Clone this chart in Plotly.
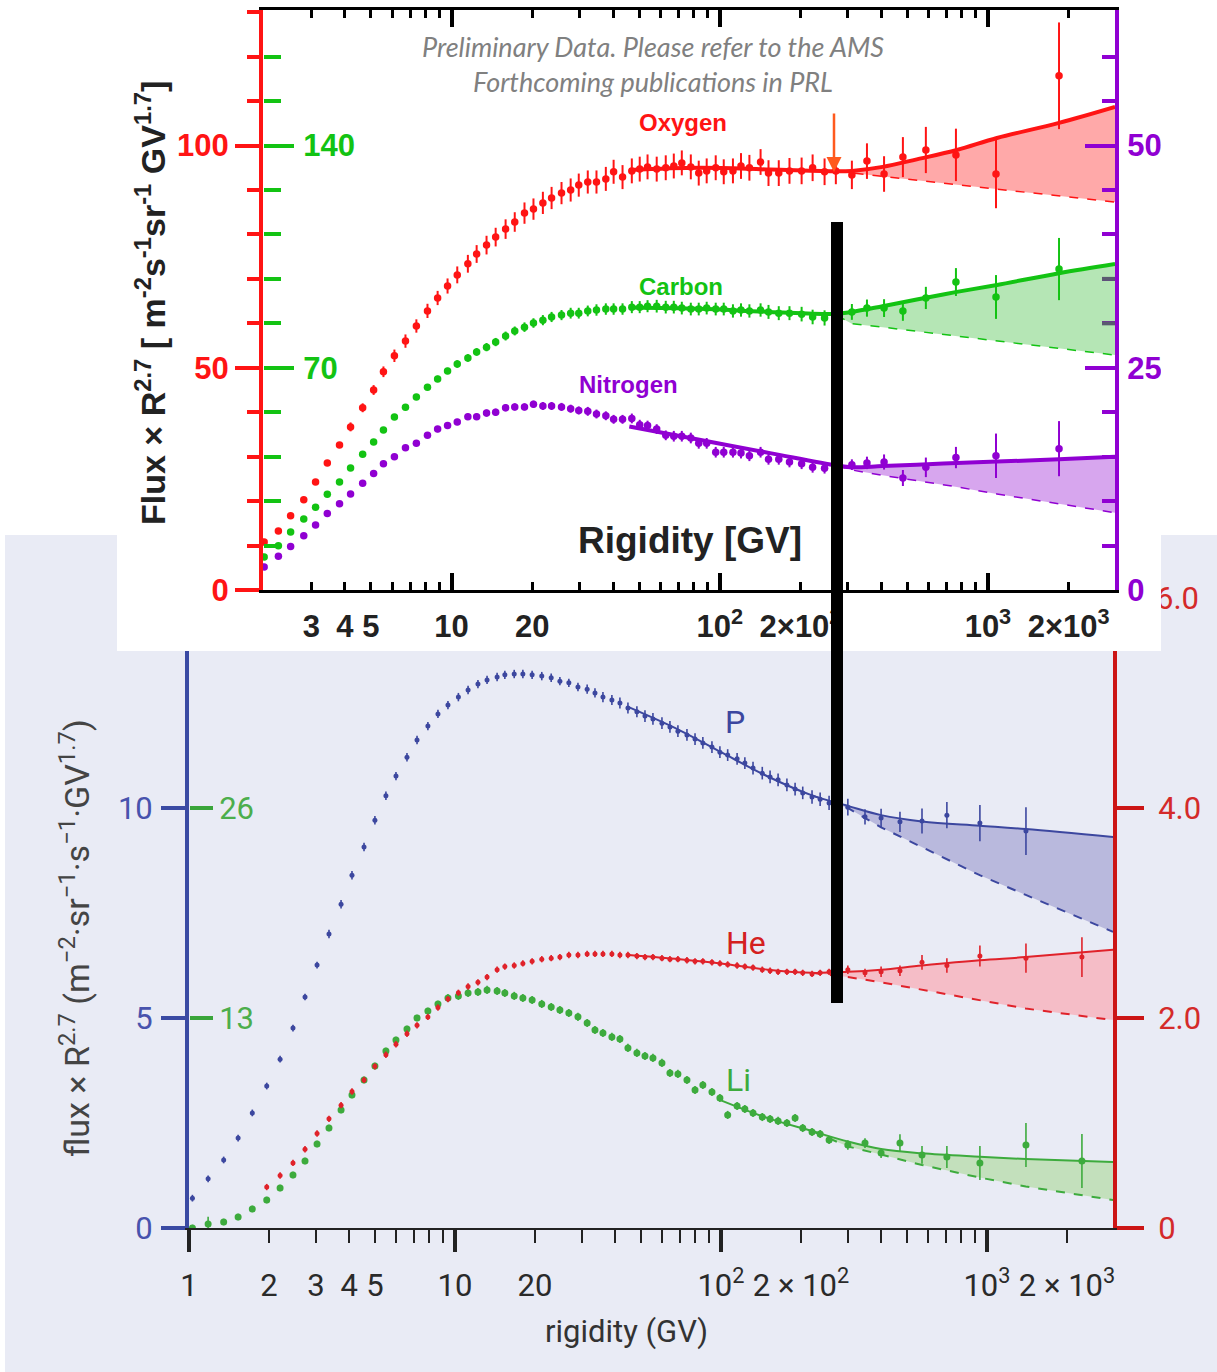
import plotly.graph_objects as go

W, H = 1217, 1372
def px(x): return x / W
def py(y): return 1 - y / H

# ---------------- TOP PANEL: AMS O / C / N ----------------
R_top = [2.00, 2.26, 2.51, 2.81, 3.11, 3.44, 3.82, 4.20, 4.66, 5.12,
         5.57, 6.12, 6.73, 7.39, 8.13, 8.87, 9.66, 10.5, 11.5, 12.4,
         13.5, 14.6, 15.9, 17.2, 18.7, 20.2, 21.9, 23.6, 25.7, 27.8,
         29.8, 32.2, 34.7, 37.6, 40.2, 43.4, 47.0, 50.3, 53.8, 58.2,
         62.9, 67.4, 72.2, 78.0, 83.5, 89.4, 96.6, 103.5, 112, 120,
         129, 142, 152, 166, 182, 202, 222, 246, 271, 311,
         354, 410, 482, 587, 760, 1072, 1842]
oxygen = [10.8, 13.3, 16.7, 20.3, 24.3, 28.6, 32.6, 36.7, 41.0, 45.0,
          49.1, 52.7, 56.0, 59.4, 62.8, 65.7, 68.4, 70.9, 73.4, 75.6,
          77.6, 79.4, 81.2, 82.8, 84.8, 85.7, 87.1, 88.2, 89.3, 90.0,
          91.1, 91.8, 91.8, 92.5, 94.1, 92.9, 94.3, 94.7, 95.2, 94.7,
          95.0, 95.4, 96.1, 95.2, 93.8, 94.3, 95.0, 94.1, 94.3, 95.4,
          95.0, 96.3, 93.8, 93.8, 94.3, 94.3, 95.0, 94.1, 94.3, 93.4,
          96.5, 93.6, 97.4, 99.0, 97.9, 93.6, 115.7]
oxygen_err = [0.5, 0.5, 0.5, 0.5, 0.5, 0.5, 0.5, 1.0, 1.0, 1.1,
              1.2, 1.4, 1.5, 1.5, 1.6, 1.6, 1.7, 1.9, 2.0, 2.0,
              2.1, 2.1, 2.2, 2.2, 2.4, 2.4, 2.5, 2.5, 2.5, 2.6,
              2.6, 2.6, 2.6, 2.7, 2.7, 2.7, 2.8, 2.8, 2.8, 2.8,
              2.8, 2.8, 2.8, 2.8, 2.8, 2.8, 2.8, 2.8, 2.8, 2.9,
              2.9, 2.9, 2.9, 2.9, 2.9, 3.0, 3.0, 3.0, 3.0, 3.2,
              4.0, 4.0, 4.5, 5.2, 5.9, 7.7, 12.0]
carbon = [10.4, 13.9, 18.3, 22.4, 26.1, 30.2, 34.0, 38.4, 42.8, 46.6,
          50.4, 54.5, 57.6, 60.8, 63.9, 66.5, 69.0, 71.2, 73.1, 75.0,
          76.5, 78.1, 80.0, 81.6, 82.8, 84.1, 85.0, 86.0, 86.6, 87.2,
          87.2, 87.9, 88.2, 88.5, 88.5, 88.5, 89.1, 89.1, 89.4, 89.4,
          89.1, 89.1, 88.8, 88.5, 88.5, 88.8, 88.5, 88.5, 87.9, 88.2,
          87.9, 88.2, 87.6, 87.2, 87.2, 86.9, 86.0, 85.7, 86.6, 87.6,
          88.8, 88.8, 87.9, 92.0, 97.0, 92.3, 101.1]
carbon_err = [0.8, 0.8, 0.8, 0.8, 0.8, 0.8, 0.8, 0.8, 0.8, 0.8,
              0.8, 0.8, 0.9, 0.9, 0.9, 1.0, 1.0, 1.2, 1.2, 1.2,
              1.3, 1.3, 1.4, 1.4, 1.5, 1.5, 1.6, 1.6, 1.6, 1.7,
              1.7, 1.7, 1.8, 1.8, 1.8, 1.8, 1.9, 1.9, 1.9, 2.0,
              2.0, 2.0, 2.0, 2.0, 2.0, 2.0, 2.0, 2.0, 2.1, 2.1,
              2.1, 2.1, 2.2, 2.2, 2.2, 2.3, 2.3, 2.4, 2.4, 2.5,
              2.7, 2.8, 3.1, 3.5, 4.4, 6.9, 9.8]
nitrogen = [2.6, 3.8, 4.9, 6.1, 7.3, 8.6, 9.7, 10.8, 12.0, 13.1,
            14.2, 15.0, 16.0, 16.5, 17.4, 18.1, 18.5, 18.9, 19.5, 19.5,
            19.9, 20.0, 20.5, 20.6, 20.6, 20.9, 20.7, 20.7, 20.6, 20.4,
            20.2, 20.1, 19.8, 19.6, 19.2, 19.2, 19.3, 18.6, 18.5, 18.1,
            17.4, 17.3, 17.3, 17.1, 16.5, 16.5, 15.5, 15.5, 15.5, 15.4,
            15.1, 15.5, 14.7, 14.7, 14.4, 14.2, 13.8, 13.7, 13.9, 14.1,
            14.3, 14.4, 12.6, 13.8, 14.9, 15.1, 15.9]
nitrogen_err = [0.3, 0.3, 0.3, 0.3, 0.3, 0.3, 0.3, 0.3, 0.3, 0.3,
                0.3, 0.3, 0.3, 0.3, 0.3, 0.35, 0.35, 0.35, 0.35, 0.35,
                0.4, 0.4, 0.4, 0.4, 0.4, 0.4, 0.45, 0.45, 0.45, 0.45,
                0.45, 0.5, 0.5, 0.5, 0.5, 0.5, 0.55, 0.55, 0.55, 0.55,
                0.55, 0.6, 0.6, 0.6, 0.6, 0.6, 0.6, 0.6, 0.6, 0.6,
                0.6, 0.6, 0.6, 0.6, 0.6, 0.6, 0.6, 0.6, 0.6, 0.6,
                0.7, 0.85, 0.9, 1.1, 1.2, 2.5, 3.1]

R_fit_top = [46, 84, 154, 273, 311, 405, 543, 766, 1081, 1842, 2979]
oxygen_fit = [94.5, 95.0, 94.6, 94.2, 94.3, 95.2, 96.9, 99.0, 101.7, 105.1, 108.7]
oxygen_fit_lo = [None, None, None, 94.2, 93.8, 93.1, 92.2, 91.2, 90.2, 88.7, 87.3]
carbon_fit = [89.0, 88.6, 87.6, 87.0, 87.6, 89.4, 91.5, 93.9, 96.1, 99.8, 102.7]
carbon_fit_lo = [None, None, None, 86.5, 83.9, 82.8, 81.5, 80.0, 78.5, 76.2, 74.0]
nitrogen_fit = [18.4, 16.9, 15.4, 14.0, 13.8, 13.95, 14.1, 14.3, 14.45, 14.7, 15.0]
nitrogen_fit_lo = [None, None, None, 14.0, 13.5, 12.9, 12.3, 11.6, 10.8, 9.7, 8.7]

# ---------------- BOTTOM PANEL: AMS P / He / Li ----------------
R_bot = [1.03, 1.18, 1.35, 1.53, 1.73, 1.96, 2.20, 2.46, 2.73, 3.03,
         3.36, 3.73, 4.10, 4.55, 5.00, 5.50, 6.00, 6.60, 7.20, 7.91,
         8.63, 9.41, 10.3, 11.2, 12.2, 13.2, 14.4, 15.4, 16.7, 18.0,
         19.5, 21.2, 23.0, 24.8, 26.8, 29.0, 31.4, 33.6, 36.0, 38.9,
         41.7, 44.7, 48.3, 51.8, 55.5, 60.0, 64.3, 68.9, 74.5, 79.9,
         85.5, 92.5, 99.1, 106, 115, 123, 132, 143, 153, 164,
         177, 190, 203, 220, 236, 255, 300, 348, 400, 471,
         570, 707, 941, 1402, 2276]
proton = [0.71, 1.17, 1.62, 2.14, 2.74, 3.38, 4.02, 4.76, 5.50, 6.26,
          7.00, 7.71, 8.40, 9.07, 9.71, 10.29, 10.76, 11.21, 11.62, 11.95,
          12.24, 12.45, 12.64, 12.81, 12.95, 13.05, 13.12, 13.17, 13.19, 13.19,
          13.17, 13.14, 13.10, 13.02, 12.98, 12.88, 12.83, 12.74, 12.64, 12.57,
          12.50, 12.38, 12.29, 12.19, 12.12, 12.02, 11.93, 11.83, 11.74, 11.64,
          11.55, 11.45, 11.33, 11.26, 11.17, 11.07, 10.95, 10.83, 10.74, 10.67,
          10.55, 10.45, 10.36, 10.26, 10.21, 10.12, 10.02, 9.79, 9.76, 9.67,
          9.69, 9.83, 9.64, 9.45, None]
proton_err = [0.08, 0.08, 0.08, 0.08, 0.08, 0.08, 0.08, 0.08, 0.08, 0.08,
              0.1, 0.1, 0.1, 0.1, 0.1, 0.1, 0.1, 0.1, 0.1, 0.1,
              0.1, 0.1, 0.1, 0.1, 0.1, 0.1, 0.1, 0.1, 0.1, 0.1,
              0.1, 0.1, 0.1, 0.1, 0.1, 0.1, 0.11, 0.11, 0.12, 0.12,
              0.13, 0.13, 0.13, 0.14, 0.14, 0.14, 0.14, 0.14, 0.14, 0.14,
              0.14, 0.14, 0.14, 0.14, 0.14, 0.14, 0.15, 0.15, 0.15, 0.15,
              0.15, 0.15, 0.15, 0.16, 0.16, 0.17, 0.2, 0.18, 0.22, 0.24,
              0.3, 0.31, 0.43, 0.57, 0]
helium = [None, None, None, None, None, 0.39, 0.50, 0.62, 0.75, 0.90,
          1.04, 1.17, 1.30, 1.41, 1.54, 1.65, 1.75, 1.85, 1.93, 2.01,
          2.10, 2.18, 2.24, 2.30, 2.34, 2.39, 2.46, 2.49, 2.50, 2.52,
          2.54, 2.56, 2.57, 2.58, 2.60, 2.60, 2.61, 2.61, 2.61, 2.61,
          2.60, 2.60, 2.59, 2.58, 2.58, 2.57, 2.56, 2.56, 2.55, 2.54,
          2.54, 2.53, 2.52, 2.51, 2.50, 2.49, 2.48, 2.46, 2.45, 2.44,
          2.44, 2.44, 2.43, 2.42, 2.43, 2.44, 2.46, 2.43, 2.44, 2.45,
          2.53, 2.50, 2.59, 2.57, 2.58]
helium_err = [0, 0, 0, 0, 0, 0.03, 0.03, 0.03, 0.03, 0.03,
              0.03, 0.03, 0.03, 0.03, 0.03, 0.03, 0.03, 0.03, 0.03, 0.03,
              0.03, 0.03, 0.03, 0.03, 0.03, 0.03, 0.03, 0.03, 0.03, 0.03,
              0.03, 0.03, 0.03, 0.03, 0.03, 0.03, 0.03, 0.03, 0.03, 0.03,
              0.03, 0.03, 0.03, 0.03, 0.03, 0.03, 0.03, 0.03, 0.03, 0.03,
              0.03, 0.03, 0.03, 0.03, 0.03, 0.03, 0.03, 0.03, 0.03, 0.03,
              0.03, 0.03, 0.03, 0.03, 0.03, 0.03, 0.04, 0.04, 0.05, 0.05,
              0.07, 0.07, 0.10, 0.14, 0.19]
lithium = [0.0, 0.25, 0.37, 0.68, 1.18, 1.73, 2.48, 3.28, 4.15, 5.20,
           6.19, 7.31, 8.24, 9.16, 10.03, 10.96, 11.64, 12.32, 13.00, 13.44,
           13.87, 14.24, 14.37, 14.55, 14.61, 14.74, 14.67, 14.55, 14.37, 14.24,
           14.12, 13.87, 13.68, 13.50, 13.31, 13.07, 12.69, 12.26, 12.07, 11.83,
           11.70, 11.15, 10.84, 10.65, 10.53, 10.22, 9.60, 9.54, 9.16, 8.54,
           8.85, 8.42, 8.05, 7.00, 7.55, 7.37, 7.12, 6.87, 6.75, 6.63,
           6.50, 6.81, 6.19, 5.94, 5.82, 5.45, 5.14, 5.26, 4.64, 5.26,
           4.52, 4.40, 4.02, 5.14, 4.15]
lithium_err = [0.2, 0.45, 0.2, 0.2, 0.2, 0.2, 0.2, 0.2, 0.2, 0.2,
               0.2, 0.2, 0.2, 0.2, 0.2, 0.2, 0.2, 0.2, 0.2, 0.2,
               0.2, 0.25, 0.25, 0.25, 0.25, 0.25, 0.25, 0.25, 0.25, 0.25,
               0.25, 0.25, 0.25, 0.25, 0.25, 0.25, 0.25, 0.25, 0.25, 0.25,
               0.25, 0.25, 0.25, 0.25, 0.25, 0.25, 0.25, 0.25, 0.25, 0.25,
               0.25, 0.25, 0.25, 0.25, 0.25, 0.25, 0.25, 0.25, 0.25, 0.25,
               0.25, 0.25, 0.25, 0.25, 0.25, 0.25, 0.3, 0.3, 0.3, 0.55,
               0.55, 0.68, 1.05, 1.36, 1.67]

R_fit_bot = [45, 70, 100, 150, 220, 300, 400, 570, 940, 1400, 2979]
proton_fit = [12.40, 11.85, 11.33, 10.75, 10.30, 10.05, 9.83, 9.68, 9.58, 9.50, 9.31]
proton_fit_lo = [None, None, None, None, 10.30, 10.00, 9.54, 9.07, 8.40, 7.93, 7.05]
helium_fit = [2.60, 2.56, 2.52, 2.46, 2.43, 2.44, 2.46, 2.50, 2.55, 2.58, 2.65]
helium_fit_lo = [None, None, None, None, 2.43, 2.39, 2.34, 2.27, 2.17, 2.09, 1.98]
lithium_fit = [None, None, 7.90, 6.80, 6.00, 5.35, 4.89, 4.62, 4.41, 4.27, 4.09]
lithium_fit_lo = [None, None, None, None, 6.00, 5.05, 4.55, 3.90, 3.12, 2.57, 1.73]

top_ticks = [3, 4, 5, 6, 7, 8, 9, 10, 20, 30, 40, 50, 60, 70, 80, 90,
             100, 200, 300, 400, 500, 600, 700, 800, 900, 1000, 2000]
top_labels = {3: '3', 4: '4', 5: '5', 10: '10', 20: '20', 100: '10<sup>2</sup>',
              200: '2×10<sup>2</sup>', 1000: '10<sup>3</sup>', 2000: '2×10<sup>3</sup>'}
bot_ticks = [1, 2, 3, 4, 5, 6, 7, 8, 9, 10, 20, 30, 40, 50, 60, 70, 80, 90,
             100, 200, 300, 400, 500, 600, 700, 800, 900, 1000, 2000]
bot_labels = {1: '1', 2: '2', 3: '3', 4: '4', 5: '5', 10: '10', 20: '20',
              100: '10<sup>2</sup>', 200: '2 × 10<sup>2</sup>',
              1000: '10<sup>3</sup>', 2000: '2 × 10<sup>3</sup>'}
decades = [1, 10, 100, 1000]

# ---------------- colours ----------------
RED, GREEN, PURPLE = '#ff1414', '#13c313', '#9000d2'
BLUE_B, RED_B, GREEN_B = '#3c479f', '#e0222a', '#3dab3d'
BLUE_AX, RED_AX = '#3a4aa3', '#cc1515'
LAV = '#e9ebf5'

fig = go.Figure()

def add_band(R, hi, lo, xa, ya, col, fill, lw, dlw, shape):
    xs = [r for r, l in zip(R, lo) if l is not None]
    los = [l for l in lo if l is not None]
    his = [h for h, l in zip(hi, lo) if l is not None]
    fig.add_trace(go.Scatter(x=xs, y=los, xaxis=xa, yaxis=ya, mode='lines',
                             line=dict(color=col, width=dlw, dash='dash'), hoverinfo='skip'))
    fig.add_trace(go.Scatter(x=xs, y=his, xaxis=xa, yaxis=ya, mode='lines', fill='tonexty',
                             fillcolor=fill, line=dict(width=0, shape=shape), hoverinfo='skip'))
    fig.add_trace(go.Scatter(x=R, y=hi, xaxis=xa, yaxis=ya, mode='lines',
                             line=dict(color=col, width=lw, shape=shape), connectgaps=False,
                             hoverinfo='skip'))

def add_points(R, v, e, xa, ya, col, size, th):
    fig.add_trace(go.Scatter(x=R, y=v, xaxis=xa, yaxis=ya, mode='markers',
                             marker=dict(color=col, size=size, line=dict(width=0)),
                             error_y=dict(type='data', array=e, visible=True, color=col,
                                          thickness=th, width=0)))

# bottom panel
add_band(R_fit_bot, proton_fit, proton_fit_lo, 'x3', 'y4', BLUE_B, '#b9b9dd', 2, 2, 'spline')
add_band(R_fit_bot, helium_fit, helium_fit_lo, 'x3', 'y6', RED_B, '#f5bdc7', 2, 2, 'spline')
add_band(R_fit_bot, lithium_fit, lithium_fit_lo, 'x3', 'y5', GREEN_B, '#c3e0bc', 2, 2, 'spline')
add_points(R_bot, proton, proton_err, 'x3', 'y4', BLUE_B, 5, 1.6)
add_points(R_bot, helium, helium_err, 'x3', 'y6', RED_B, 5, 1.6)
add_points(R_bot, lithium, lithium_err, 'x3', 'y5', GREEN_B, 7, 1.6)

# top panel
add_band(R_fit_top, oxygen_fit, oxygen_fit_lo, 'x', 'y', RED, 'rgba(255,50,50,0.42)', 4, 1.5, 'spline')
add_band(R_fit_top, carbon_fit, carbon_fit_lo, 'x', 'y2', GREEN, 'rgba(30,180,30,0.33)', 4, 1.5, 'spline')
add_band(R_fit_top, nitrogen_fit, nitrogen_fit_lo, 'x', 'y3', PURPLE, 'rgba(150,20,210,0.38)', 4, 1.5, 'spline')
add_points(R_top, oxygen, oxygen_err, 'x', 'y', RED, 7.5, 2)
add_points(R_top, carbon, carbon_err, 'x', 'y2', GREEN, 7.5, 2)
add_points(R_top, nitrogen, nitrogen_err, 'x', 'y3', PURPLE, 7.5, 2)

# dummy traces so the overlay tick axes exist
fig.add_trace(go.Scatter(x=[], y=[], xaxis='x2', yaxis='y', showlegend=False))
fig.add_trace(go.Scatter(x=[], y=[], xaxis='x4', yaxis='y4', showlegend=False))

BOLD = dict(family='Liberation Sans, Arial, sans-serif', weight='bold')
SANS = 'Roboto, Open Sans, sans-serif'

top_xrange = [0.2967, 3.474]
bot_xrange = [0.0, 3.474]

fig.update_layout(
    width=W, height=H, margin=dict(l=0, r=0, t=0, b=0, pad=0, autoexpand=False),
    paper_bgcolor='white', plot_bgcolor='rgba(0,0,0,0)', showlegend=False,
    xaxis=dict(domain=[px(263), px(1115)], anchor='y', type='log', range=top_xrange,
               showline=True, linecolor='black', linewidth=3, mirror='ticks',
               ticks='inside', ticklen=8, tickwidth=2.5, tickcolor='black',
               tickmode='array', tickvals=top_ticks,
               ticktext=[top_labels.get(t, '') for t in top_ticks],
               tickfont=dict(size=31, color='#222', **BOLD), ticklabelstandoff=7,
               showgrid=False, zeroline=False),
    xaxis2=dict(overlaying='x', anchor='y', type='log', range=top_xrange,
                ticks='inside', ticklen=17, tickwidth=3.5, tickcolor='black', mirror='ticks',
                tickmode='array', tickvals=[10, 100, 1000], showticklabels=False,
                showline=False, showgrid=False, zeroline=False),
    yaxis=dict(domain=[py(590), py(10)], anchor='x', range=[0, 130.5], side='left',
               showline=True, linecolor=RED, linewidth=4,
               ticks='outside', ticklen=24, tickwidth=4, tickcolor=RED,
               tickmode='array', tickvals=[0, 50, 100],
               minor=dict(ticks='outside', tickmode='array',
                          tickvals=[10, 20, 30, 40, 60, 70, 80, 90, 110, 120, 130],
                          ticklen=12, tickwidth=4, tickcolor=RED),
               tickfont=dict(size=31, color=RED, **BOLD), ticklabelstandoff=0,
               showgrid=False, zeroline=False),
    yaxis2=dict(overlaying='y', anchor='free', position=px(263), side='right',
                range=[0, 182.7], showline=False,
                ticks='outside', ticklen=30, tickwidth=4, tickcolor=GREEN,
                tickmode='array', tickvals=[70, 140],
                minor=dict(ticks='outside', tickmode='array',
                           tickvals=[14, 28, 42, 56, 84, 98, 112, 126, 154, 168],
                           ticklen=17, tickwidth=4, tickcolor=GREEN),
                tickfont=dict(size=31, color=GREEN, **BOLD), ticklabelstandoff=3,
                showgrid=False, zeroline=False),
    yaxis3=dict(overlaying='y', anchor='x', side='right', range=[0, 65.25],
                showline=True, linecolor=PURPLE, linewidth=4,
                ticks='inside', ticklen=30, tickwidth=4, tickcolor=PURPLE,
                tickmode='array', tickvals=[0, 25, 50],
                minor=dict(ticks='inside', tickmode='array',
                           tickvals=[5, 10, 15, 20, 30, 35, 40, 45, 55, 60],
                           ticklen=13, tickwidth=4, tickcolor=PURPLE),
                tickfont=dict(size=31, color=PURPLE, **BOLD), ticklabelstandoff=2,
                showgrid=False, zeroline=False),
    xaxis3=dict(domain=[px(189), px(1113)], anchor='y4', type='log', range=bot_xrange,
                showline=True, linecolor='#222', linewidth=2,
                ticks='outside', ticklen=13, tickwidth=2, tickcolor='#222',
                tickmode='array', tickvals=bot_ticks,
                ticktext=[bot_labels.get(t, '') for t in bot_ticks],
                tickfont=dict(size=31, color='#2a2a2a', family=SANS), ticklabelstandoff=16,
                showgrid=False, zeroline=False),
    xaxis4=dict(overlaying='x3', anchor='y4', type='log', range=bot_xrange,
                ticks='outside', ticklen=23, tickwidth=3.5, tickcolor='#222',
                tickmode='array', tickvals=decades, showticklabels=False,
                showline=False, showgrid=False, zeroline=False),
    yaxis4=dict(domain=[py(1228), py(651)], anchor='x3', range=[0, 13.738], side='left',
                showline=True, linecolor=BLUE_AX, linewidth=4,
                ticks='outside', ticklen=24, tickwidth=4, tickcolor=BLUE_AX,
                tickmode='array', tickvals=[0, 5, 10],
                tickfont=dict(size=31, color='#4853ad', family=SANS), ticklabelstandoff=2,
                showgrid=False, zeroline=False),
    yaxis5=dict(overlaying='y4', anchor='free', position=px(189), side='right',
                range=[0, 35.72], showline=False,
                ticks='outside', ticklen=23, tickwidth=4, tickcolor='#3aa53a',
                tickmode='array', tickvals=[13, 26],
                tickfont=dict(size=31, color='#4cae4c', family=SANS), ticklabelstandoff=0,
                showgrid=False, zeroline=False),
    yaxis6=dict(overlaying='y4', anchor='x3', side='right', range=[0, 5.495],
                showline=True, linecolor=RED_AX, linewidth=4,
                ticks='outside', ticklen=27, tickwidth=4, tickcolor=RED_AX,
                tickmode='array', tickvals=[0, 2, 4], ticktext=['0', '2.0', '4.0'],
                tickfont=dict(size=31, color='#d42a2a', family=SANS), ticklabelstandoff=8,
                showgrid=False, zeroline=False),
)

shapes = [
    dict(type='rect', xref='paper', yref='paper', x0=px(5), x1=1, y0=0, y1=py(535),
         fillcolor=LAV, line=dict(width=0), layer='below'),
    dict(type='rect', xref='paper', yref='paper', x0=px(117), x1=px(1161), y0=py(651), y1=1,
         fillcolor='white', line=dict(width=0), layer='below'),
    dict(type='line', xref='paper', yref='y3', x0=px(1102), x1=px(1115), y0=30, y1=30,
         line=dict(color='#5a5a70', width=4), layer='above'),
    dict(type='line', xref='paper', yref='y3', x0=px(1102), x1=px(1115), y0=35, y1=35,
         line=dict(color='#5a5a70', width=4), layer='above'),
    dict(type='rect', xref='paper', yref='paper', x0=px(831), x1=px(843), y0=py(1003), y1=py(222),
         fillcolor='black', line=dict(width=0), layer='above'),
]
fig.update_layout(shapes=shapes)

ann = []
def text(x, y, t, size, color, family=SANS, weight='normal', style='normal', angle=0):
    ann.append(dict(xref='paper', yref='paper', x=px(x), y=py(y), text=t, showarrow=False,
                    textangle=angle, xanchor='center', yanchor='middle',
                    font=dict(size=size, color=color, family=family, weight=weight, style=style)))

BF = 'Liberation Sans, Arial, sans-serif'
text(653, 64, 'Preliminary Data. Please refer to the AMS<br>Forthcoming publications in PRL',
     27, '#808080', family='Lato, Open Sans, sans-serif', style='italic')
text(683, 122, 'Oxygen', 24, RED, family=BF, weight='bold')
text(681, 287, 'Carbon', 24, GREEN, family=BF, weight='bold')
text(628, 385, 'Nitrogen', 24, PURPLE, family=BF, weight='bold')
text(690, 540, 'Rigidity [GV]', 37, '#222', family=BF, weight='bold')
text(150, 303, 'Flux × R<sup>2.7</sup> [ m<sup>-2</sup>s<sup>-1</sup>sr<sup>-1</sup> GV<sup>1.7</sup>]',
     34, '#222', family=BF, weight='bold', angle=-90)
text(735, 722, 'P', 32, '#3c479f')
text(746, 943, 'He', 32, '#d42020')
text(738, 1080, 'Li', 32, '#3dab3d')
text(626, 1331, 'rigidity (GV)', 31, '#333')
text(75, 938, 'flux × R<sup>2.7</sup> (m<sup>−2</sup>·sr<sup>−1</sup>·s<sup>−1</sup>·GV<sup>1.7</sup>)',
     34, '#444', angle=-90)
text(1177, 598, '6.0', 31, '#d42a2a')
# white masks reproducing the cropped edges of the pasted top panel
ann.append(dict(xref='paper', yref='paper', x=px(1161), y=1, xanchor='left', yanchor='top',
                text=' ', showarrow=False, width=54, height=533, bgcolor='white',
                borderpad=0, borderwidth=0))
ann.append(dict(xref='paper', yref='paper', x=px(1147), y=py(572), xanchor='left', yanchor='top',
                text=' ', showarrow=False, width=14, height=50, bgcolor='white',
                borderpad=0, borderwidth=0))
# orange arrow marking the break
ann.append(dict(xref='paper', yref='paper', x=px(834), y=py(172), text='', showarrow=True,
                ax=0, ay=-60, arrowcolor='#ff5a1e', arrowwidth=2.5, arrowhead=2, arrowsize=1.2))
fig.update_layout(annotations=ann)

fig.write_html('out.html',
               post_script="document.body.style.margin='0';"
                           "document.documentElement.style.overflow='hidden';"
                           "document.body.style.overflow='hidden';")
